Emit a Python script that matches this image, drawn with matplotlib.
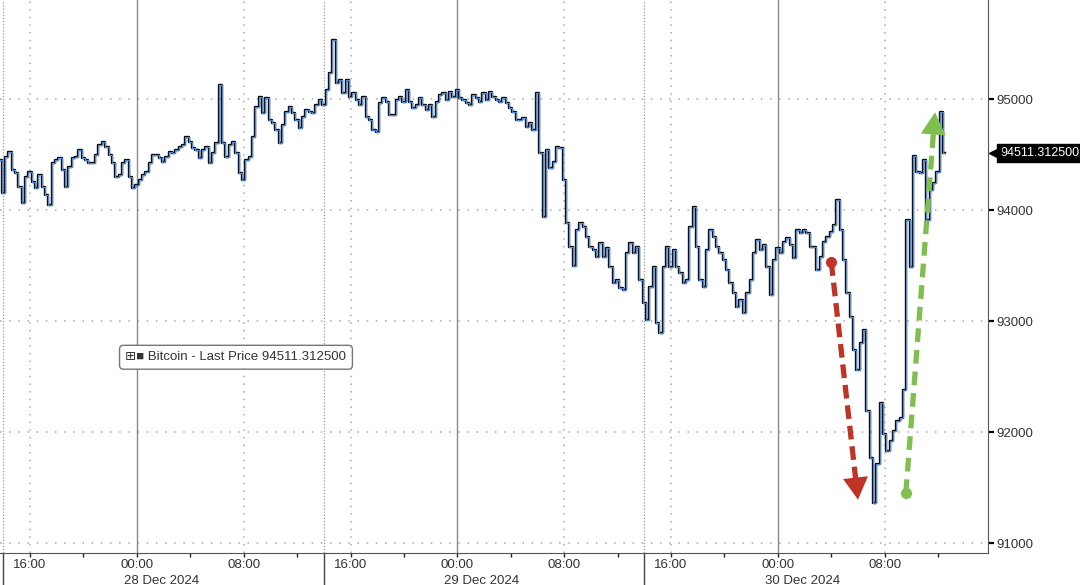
import matplotlib
matplotlib.use("Agg")
import matplotlib.pyplot as plt
import matplotlib.dates as mdates
import matplotlib.transforms as mtransforms
import numpy as np
import pandas as pd

plt.rcParams["font.family"] = ["Liberation Sans", "DejaVu Sans"]

# 15-minute Bitcoin prices, 27 Dec 13:45 -> 30 Dec 12:30
start = "2024-12-27 13:45"
step = "15min"
price = [
    94450, 94150, 94480, 94525, 94360, 94330, 94210, 94060, 94300, 94345,
    94255, 94195, 94315, 94210, 94135, 94045, 94420, 94450, 94465, 94360,
    94210, 94390, 94465, 94480, 94540, 94465, 94450, 94420, 94420, 94495,
    94585, 94615, 94570, 94495, 94420, 94300, 94315, 94420, 94450, 94300,
    94195, 94225, 94270, 94315, 94345, 94420, 94495, 94495, 94465, 94435,
    94480, 94525, 94510, 94540, 94570, 94585, 94660, 94615, 94555, 94540,
    94465, 94540, 94570, 94420, 94510, 94600, 95125, 94600, 94480, 94585,
    94615, 94510, 94330, 94270, 94450,
    94480, 94660, 94930, 95020, 94870, 95005, 94810, 94780, 94720, 94600,
    94765, 94885, 94930, 94870, 94810, 94735, 94840, 94900, 94885, 94870,
    94945, 94990, 94945, 95080, 95230, 95530, 95140, 95170, 95050, 95170,
    95020, 95050, 94990, 94945, 95020, 94840, 94810, 94720, 94700, 94960,
    95005, 94975, 94855, 94855, 94990, 95020, 94975, 95080, 94975, 94915,
    94945, 95005, 94945, 94900, 94945, 94840, 94975, 95035, 95050, 94990,
    95065, 95020, 95080, 95005, 94990, 94960, 94945, 95035, 95005, 94975,
    95050, 94990, 95065, 95020, 94990, 94975, 95005, 94960, 94915, 94885,
    94810, 94810, 94825, 94750, 94780, 94720, 95050,
    94510, 93940, 94540, 94375, 94435, 94570, 94555, 94270, 93880, 93670,
    93500, 93820, 93880, 93850, 93760, 93670, 93640, 93580, 93700, 93580,
    93655, 93490, 93340, 93370, 93295, 93280, 93610, 93700, 93610, 93670,
    93370, 93160, 93010, 93310, 93490, 92980, 92890, 93490, 93670, 93490,
    93640, 93490, 93430, 93340, 93370, 93850, 94030, 93670, 93370, 93310,
    93640, 93820, 93760, 93670, 93610, 93550, 93460, 93340, 93250, 93130,
    93190, 93070, 93250, 93370, 93610, 93730,
    93640, 93685, 93490, 93235, 93550, 93655, 93610, 93715, 93745, 93685,
    93565, 93820, 93790, 93820, 93790, 93670, 93670, 93460, 93580, 93715,
    93760, 93805, 93865, 94090, 93820, 93550, 93250, 93040, 92740, 92560,
    92800, 92920, 92190, 91770, 91360, 91710, 92260, 91980, 91830, 91920,
    92010, 92100, 92130, 92380, 93910, 93490, 94490, 94345, 94330, 94450,
    93910, 94180, 94240, 94345, 94880, 94511.3125,
]
series_name = "Bitcoin - Last Price"

x_range = ["2024-12-27 13:45", "2024-12-30 15:44"]
y_range = [90910, 95892]
y_ticks = [91000, 92000, 93000, 94000, 95000]

# annotation arrows: (time, price) tail -> head
drop_arrow = [("2024-12-30 04:00", 93530), ("2024-12-30 06:00", 91390)]
rebound_arrow = [("2024-12-30 09:35", 91450), ("2024-12-30 11:46", 94880)]

times = pd.date_range(start, periods=len(price), freq=step)
last = price[-1]
x0, x1 = pd.Timestamp(x_range[0]), pd.Timestamp(x_range[1])

fig = plt.figure(figsize=(10.8, 5.85), dpi=100)
ax = fig.add_axes([0.0, 0.0547, 0.9148, 0.9453])
ax.set_xlim(x0, x1)
ax.set_ylim(*y_range)

# horizontal grid
for y in y_ticks:
    ax.axhline(y, color="#a8a8a8", lw=1.1, ls=(0, (1, 5)), zorder=1)

# vertical grid: 8h labels, solid at midnight, session marks at 14:00
for t in pd.date_range("2024-12-27 16:00", x1, freq="8h"):
    if t.hour == 0:
        ax.axvline(t, color="#8a8a8a", lw=1.0, zorder=1)
    else:
        ax.axvline(t, color="#a8a8a8", lw=1.1, ls=(0, (1, 4)), zorder=1)
blend = mtransforms.blended_transform_factory(ax.transData, ax.transAxes)
for t in pd.date_range("2024-12-27 14:00", times[-1], freq="D"):
    ax.axvline(t, color="#9a9a9a", lw=0.9, ls=(0, (1, 1.5)), zorder=1)
    ax.plot([t, t], [0, -0.07], transform=blend, color="#444444", lw=1.0,
            clip_on=False)

# price line: black outline, blue body, bar-like steps
ax.plot(times, price, color="black", lw=1.7, drawstyle="steps-mid", zorder=3)
ax.plot(times, price, color="#5189d0", lw=0.9, drawstyle="steps-mid", zorder=4)

# axes styling
for side in ["top", "left"]:
    ax.spines[side].set_visible(False)
ax.spines["right"].set_color("#555555")
ax.spines["bottom"].set_color("#555555")

ax.xaxis.set_major_locator(mdates.HourLocator(byhour=[0, 8, 16]))
ax.xaxis.set_major_formatter(mdates.DateFormatter("%H:%M"))
ax.xaxis.set_minor_locator(mdates.HourLocator(byhour=[4, 12, 20]))
ax.tick_params(axis="x", which="both", direction="out", length=3, width=1,
               color="#222222", labelsize=9.5, labelcolor="#333333", pad=1.5)

ax.yaxis.tick_right()
ax.set_yticks(y_ticks)
ax.set_yticklabels([str(v) for v in y_ticks])
ax.tick_params(axis="y", direction="out", length=4, width=1.6, color="black",
               labelsize=9.5, labelcolor="#333333", pad=2)

for t in pd.date_range("2024-12-28", x1, freq="D"):
    ax.text(t - pd.Timedelta(hours=1), -0.05, t.strftime("%d %b %Y"),
            transform=blend, ha="left", va="center", fontsize=9.5,
            color="#333333")

# last price tag on the right axis
yblend = mtransforms.blended_transform_factory(ax.transAxes, ax.transData)
tip = mtransforms.offset_copy(yblend, fig=fig, x=5, y=0, units="points")
ax.plot([1.0], [last], marker="<", ms=9, color="black", transform=tip,
        clip_on=False, zorder=6)
ax.annotate(f"{last:.6f}", xy=(1.0, last), xycoords=yblend,
            xytext=(9, 0), textcoords="offset points", ha="left", va="center",
            fontsize=9, color="white",
            bbox=dict(boxstyle="square,pad=0.25", fc="black", ec="black"))

# legend box
ax.text(0.127, 0.354, f"\u229e\u25a0 {series_name} {last:.6f}",
        transform=ax.transAxes, ha="left", va="center", fontsize=9.5,
        color="#333333",
        bbox=dict(boxstyle="round,pad=0.45,rounding_size=0.3", fc="white",
                  ec="#777777", lw=1.0))


def draw_arrow(ax, tail, head, color, dashes, head_px):
    p0 = np.array([mdates.date2num(pd.Timestamp(tail[0])), tail[1]])
    p1 = np.array([mdates.date2num(pd.Timestamp(head[0])), head[1]])
    d0, d1 = ax.transData.transform(p0), ax.transData.transform(p1)
    vec = d1 - d0
    shaft_end = d1 - vec / np.hypot(*vec) * head_px
    s = ax.transData.inverted().transform(shaft_end)
    ax.plot([p0[0], s[0]], [p0[1], s[1]], color=color, lw=3.8,
            ls=(0, dashes), dash_capstyle="butt", zorder=5)
    ax.plot([p0[0]], [p0[1]], marker="o", ms=7, color=color, zorder=5)
    ax.annotate("", xy=p1, xytext=s,
                arrowprops=dict(arrowstyle="-|>,head_length=0.8,head_width=0.45",
                                mutation_scale=20, color=color, lw=0,
                                shrinkA=0, shrinkB=0), zorder=5)


draw_arrow(ax, drop_arrow[0], drop_arrow[1], "#bf3427", (2.6, 1.3), 20)
draw_arrow(ax, rebound_arrow[0], rebound_arrow[1], "#7fbf4f", (2.6, 1.5), 18)

fig.savefig("out.png", dpi=100)
